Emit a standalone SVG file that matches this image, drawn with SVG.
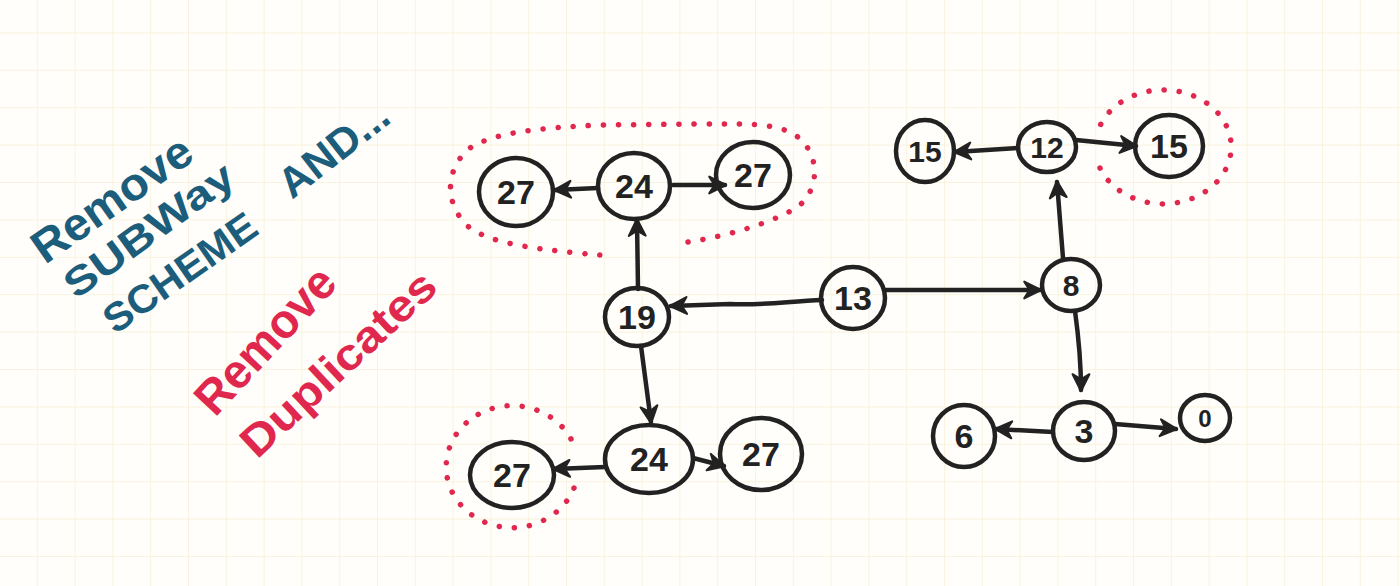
<svg xmlns="http://www.w3.org/2000/svg" width="1400" height="586" viewBox="0 0 1400 586">
<defs>
  <pattern id="grid" x="0" y="-4" width="37.8" height="37.4" patternUnits="userSpaceOnUse">
    <path d="M37.8,0 V37.4 M0,37.4 H37.8" fill="none" stroke="#f7eed3" stroke-width="1.4"/>
  </pattern>
  <marker id="ah" viewBox="0 0 20 20" refX="17" refY="10" markerWidth="21" markerHeight="21" markerUnits="userSpaceOnUse" orient="auto">
    <path d="M2,2 L18,10 L2,18 L7,10 Z" fill="#222" stroke="#222" stroke-width="2" stroke-linejoin="round"/>
  </marker>
  <style>
    .node ellipse { fill: none; stroke: #222; stroke-width: 4.5; }
    .node text { font-family: "Liberation Sans", "DejaVu Sans", sans-serif; font-size: 34px; font-weight: bold; fill: #222; text-anchor: middle; }
    .edge { fill: none; stroke: #222; stroke-width: 4.5; stroke-linecap: round; marker-end: url(#ah); }
    .dots { fill: none; stroke: #e0284e; stroke-width: 5.5; stroke-linecap: round; stroke-dasharray: 0.1 15; }
    .blue { font-family: "Liberation Sans", "DejaVu Sans", sans-serif; fill: #1c5d7c; font-weight: bold; }
    .red { font-family: "Liberation Sans", "DejaVu Sans", sans-serif; fill: #e0284e; font-weight: bold; }
  </style>
</defs>
<rect width="1400" height="586" fill="#fffefa"/>
<rect width="1400" height="586" fill="url(#grid)"/>

<g id="labels">
  <text class="blue" font-size="46" transform="translate(45,265) rotate(-35)" textLength="185" lengthAdjust="spacingAndGlyphs">Remove</text>
  <text class="blue" font-size="40" transform="translate(76,300) rotate(-36)" textLength="200" lengthAdjust="spacingAndGlyphs">SUBWay</text>
  <text class="blue" font-size="40" transform="translate(115,335) rotate(-35)" textLength="178" lengthAdjust="spacingAndGlyphs">SCHEME</text>
  <text class="blue" font-size="42" transform="translate(292,200) rotate(-38)" textLength="128" lengthAdjust="spacingAndGlyphs">AND...</text>
  <text class="red" font-size="48" transform="translate(215,418) rotate(-47)" textLength="182" lengthAdjust="spacingAndGlyphs">Remove</text>
  <text class="red" font-size="44" transform="translate(257,460) rotate(-43)" textLength="250" lengthAdjust="spacingAndGlyphs">Duplicates</text>
</g>

<g id="highlights">
  <path class="dots" d="M688,242 C730,236 780,220 800,205 C822,185 818,150 795,135 C775,122 740,124 700,124 L600,125 C540,128 495,132 470,148 C445,168 443,205 470,228 C495,245 540,250 612,256"/>
  <path class="dots" d="M574,488 A66 61 0 1 1 573,443"/>
  <path class="dots" d="M1100,168 A68 57 0 1 0 1099,128"/>
</g>

<g id="connectors">
  <path class="edge" d="M598,188 L555,190"/>
  <path class="edge" d="M673,185 L725,185"/>
  <path class="edge" d="M638,289 L637,220"/>
  <path class="edge" d="M822,300 C790,301 760,306 730,304 L671,306"/>
  <path class="edge" d="M885,290 L1040,290"/>
  <path class="edge" d="M1063,258 L1057,182"/>
  <path class="edge" d="M1075,311 C1079,340 1081,365 1081,390"/>
  <path class="edge" d="M1018,148 L955,152"/>
  <path class="edge" d="M1076,140 L1136,146"/>
  <path class="edge" d="M641,346 L651,422"/>
  <path class="edge" d="M605,467 L554,469"/>
  <path class="edge" d="M693,458 L724,466"/>
  <path class="edge" d="M1053,432 L996,429"/>
  <path class="edge" d="M1115,424 L1176,429"/>
</g>

<g id="n27a" class="node"><ellipse cx="516" cy="192" rx="37" ry="34"/><text x="516" y="204">27</text></g>
<g id="n24a" class="node"><ellipse cx="634" cy="186" rx="36" ry="33"/><text x="634" y="198">24</text></g>
<g id="n27b" class="node"><ellipse cx="753" cy="175" rx="37" ry="33"/><text x="753" y="187">27</text></g>
<g id="n19" class="node"><ellipse cx="637" cy="317" rx="32" ry="29"/><text x="637" y="329">19</text></g>
<g id="n13" class="node"><ellipse cx="853" cy="298" rx="32" ry="31"/><text x="853" y="310">13</text></g>
<g id="n8" class="node"><ellipse cx="1071" cy="285" rx="29" ry="26"/><text x="1071" y="296" style="font-size:30px">8</text></g>
<g id="n12" class="node"><ellipse cx="1047" cy="147" rx="29" ry="25"/><text x="1047" y="158" style="font-size:30px">12</text></g>
<g id="n15a" class="node"><ellipse cx="925" cy="151" rx="29" ry="31"/><text x="925" y="162" style="font-size:30px">15</text></g>
<g id="n15b" class="node"><ellipse cx="1169" cy="146" rx="34" ry="31"/><text x="1169" y="158">15</text></g>
<g id="n24b" class="node"><ellipse cx="649" cy="459" rx="44" ry="34"/><text x="649" y="471">24</text></g>
<g id="n27c" class="node"><ellipse cx="761" cy="454" rx="41" ry="36"/><text x="761" y="466">27</text></g>
<g id="n27d" class="node"><ellipse cx="512" cy="475" rx="42" ry="33"/><text x="512" y="487">27</text></g>
<g id="n3" class="node"><ellipse cx="1084" cy="431" rx="31" ry="29"/><text x="1084" y="443">3</text></g>
<g id="n6" class="node"><ellipse cx="964" cy="436" rx="31" ry="31"/><text x="964" y="448">6</text></g>
<g id="n0" class="node"><ellipse cx="1205" cy="418" rx="25" ry="23"/><text x="1205" y="427" style="font-size:24px">0</text></g>
</svg>
